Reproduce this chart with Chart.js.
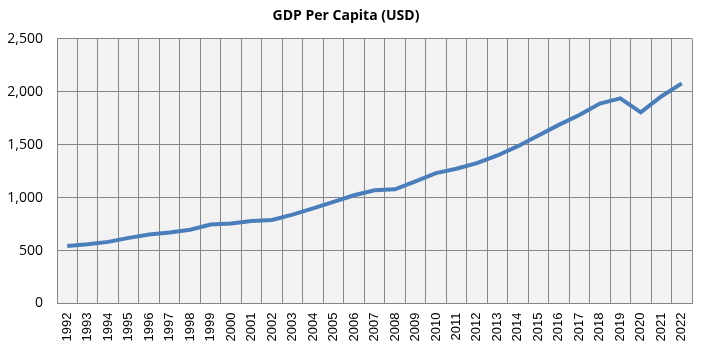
<!DOCTYPE html>
<html>
<head>
<meta charset="utf-8">
<script src="https://cdn.jsdelivr.net/npm/chart.js@4/dist/chart.umd.min.js"></script>
<style>
html,body{margin:0;padding:0;background:#fff;}
#wrap{width:702px;height:358px;position:relative;}
</style>
</head>
<body>
<div id="wrap"><canvas id="c" width="702" height="358"></canvas></div>
<script>
const years = ["1992","1993","1994","1995","1996","1997","1998","1999","2000","2001","2002","2003","2004","2005","2006","2007","2008","2009","2010","2011","2012","2013","2014","2015","2016","2017","2018","2019","2020","2021","2022"];
const gdpPerCapita = [544,560,582,620,651,670,697,746,755,780,789,840,899,959,1022,1069,1078,1153,1232,1273,1326,1398,1486,1587,1687,1781,1888,1938,1806,1955,2079];
const yTicks = [0,500,1000,1500,2000,2500];
const chartTitle = "GDP Per Capita (USD)";

const plotBg = {
  id:'plotBg',
  beforeDraw(chart){
    const {ctx, chartArea:a} = chart;
    ctx.save();
    ctx.fillStyle = '#f2f2f2';
    ctx.fillRect(a.left, a.top, a.right-a.left, a.bottom-a.top);
    ctx.restore();
  }
};

new Chart(document.getElementById('c'), {
  type:'line',
  data:{
    labels: years,
    datasets:[{
      data: gdpPerCapita,
      borderColor:'#4a7ebb',
      borderWidth:4,
      pointRadius:0,
      tension:0,
      fill:false
    }]
  },
  options:{
    responsive:false,
    animation:false,
    devicePixelRatio:1,
    layout:{padding:{left:0,right:10,top:0,bottom:0}},
    plugins:{
      legend:{display:false},
      tooltip:{enabled:false},
      title:{
        display:true,
        text:chartTitle,
        color:'#000',
        font:{family:'Open Sans', size:14, weight:'bold'},
        padding:{top:8,bottom:14}
      }
    },
    scales:{
      x:{
        offset:true,
        grid:{offset:true, color:'#868686', lineWidth:1, drawTicks:false},
        border:{display:true, color:'#868686'},
        ticks:{
          color:'#000',
          font:{family:'Liberation Sans', size:13},
          minRotation:90, maxRotation:90,
          autoSkip:false,
          padding:9
        },
        afterFit(s){ s.height = 54.5; s.paddingLeft = 0; s.paddingRight = 0; }
      },
      y:{
        min:0, max:2500,
        afterBuildTicks(s){ s.ticks = yTicks.map(v=>({value:v})); },
        grid:{color:'#868686', lineWidth:1, drawTicks:false},
        border:{display:true, color:'#868686'},
        ticks:{
          color:'#000',
          font:{family:'Open Sans', size:14},
          padding:14,
          callback:(v)=>v.toLocaleString('en-US')
        },
        afterFit(s){ s.width = 57; s.paddingTop = 0; s.paddingBottom = 0; }
      }
    }
  },
  plugins:[plotBg]
});
</script>
</body>
</html>
